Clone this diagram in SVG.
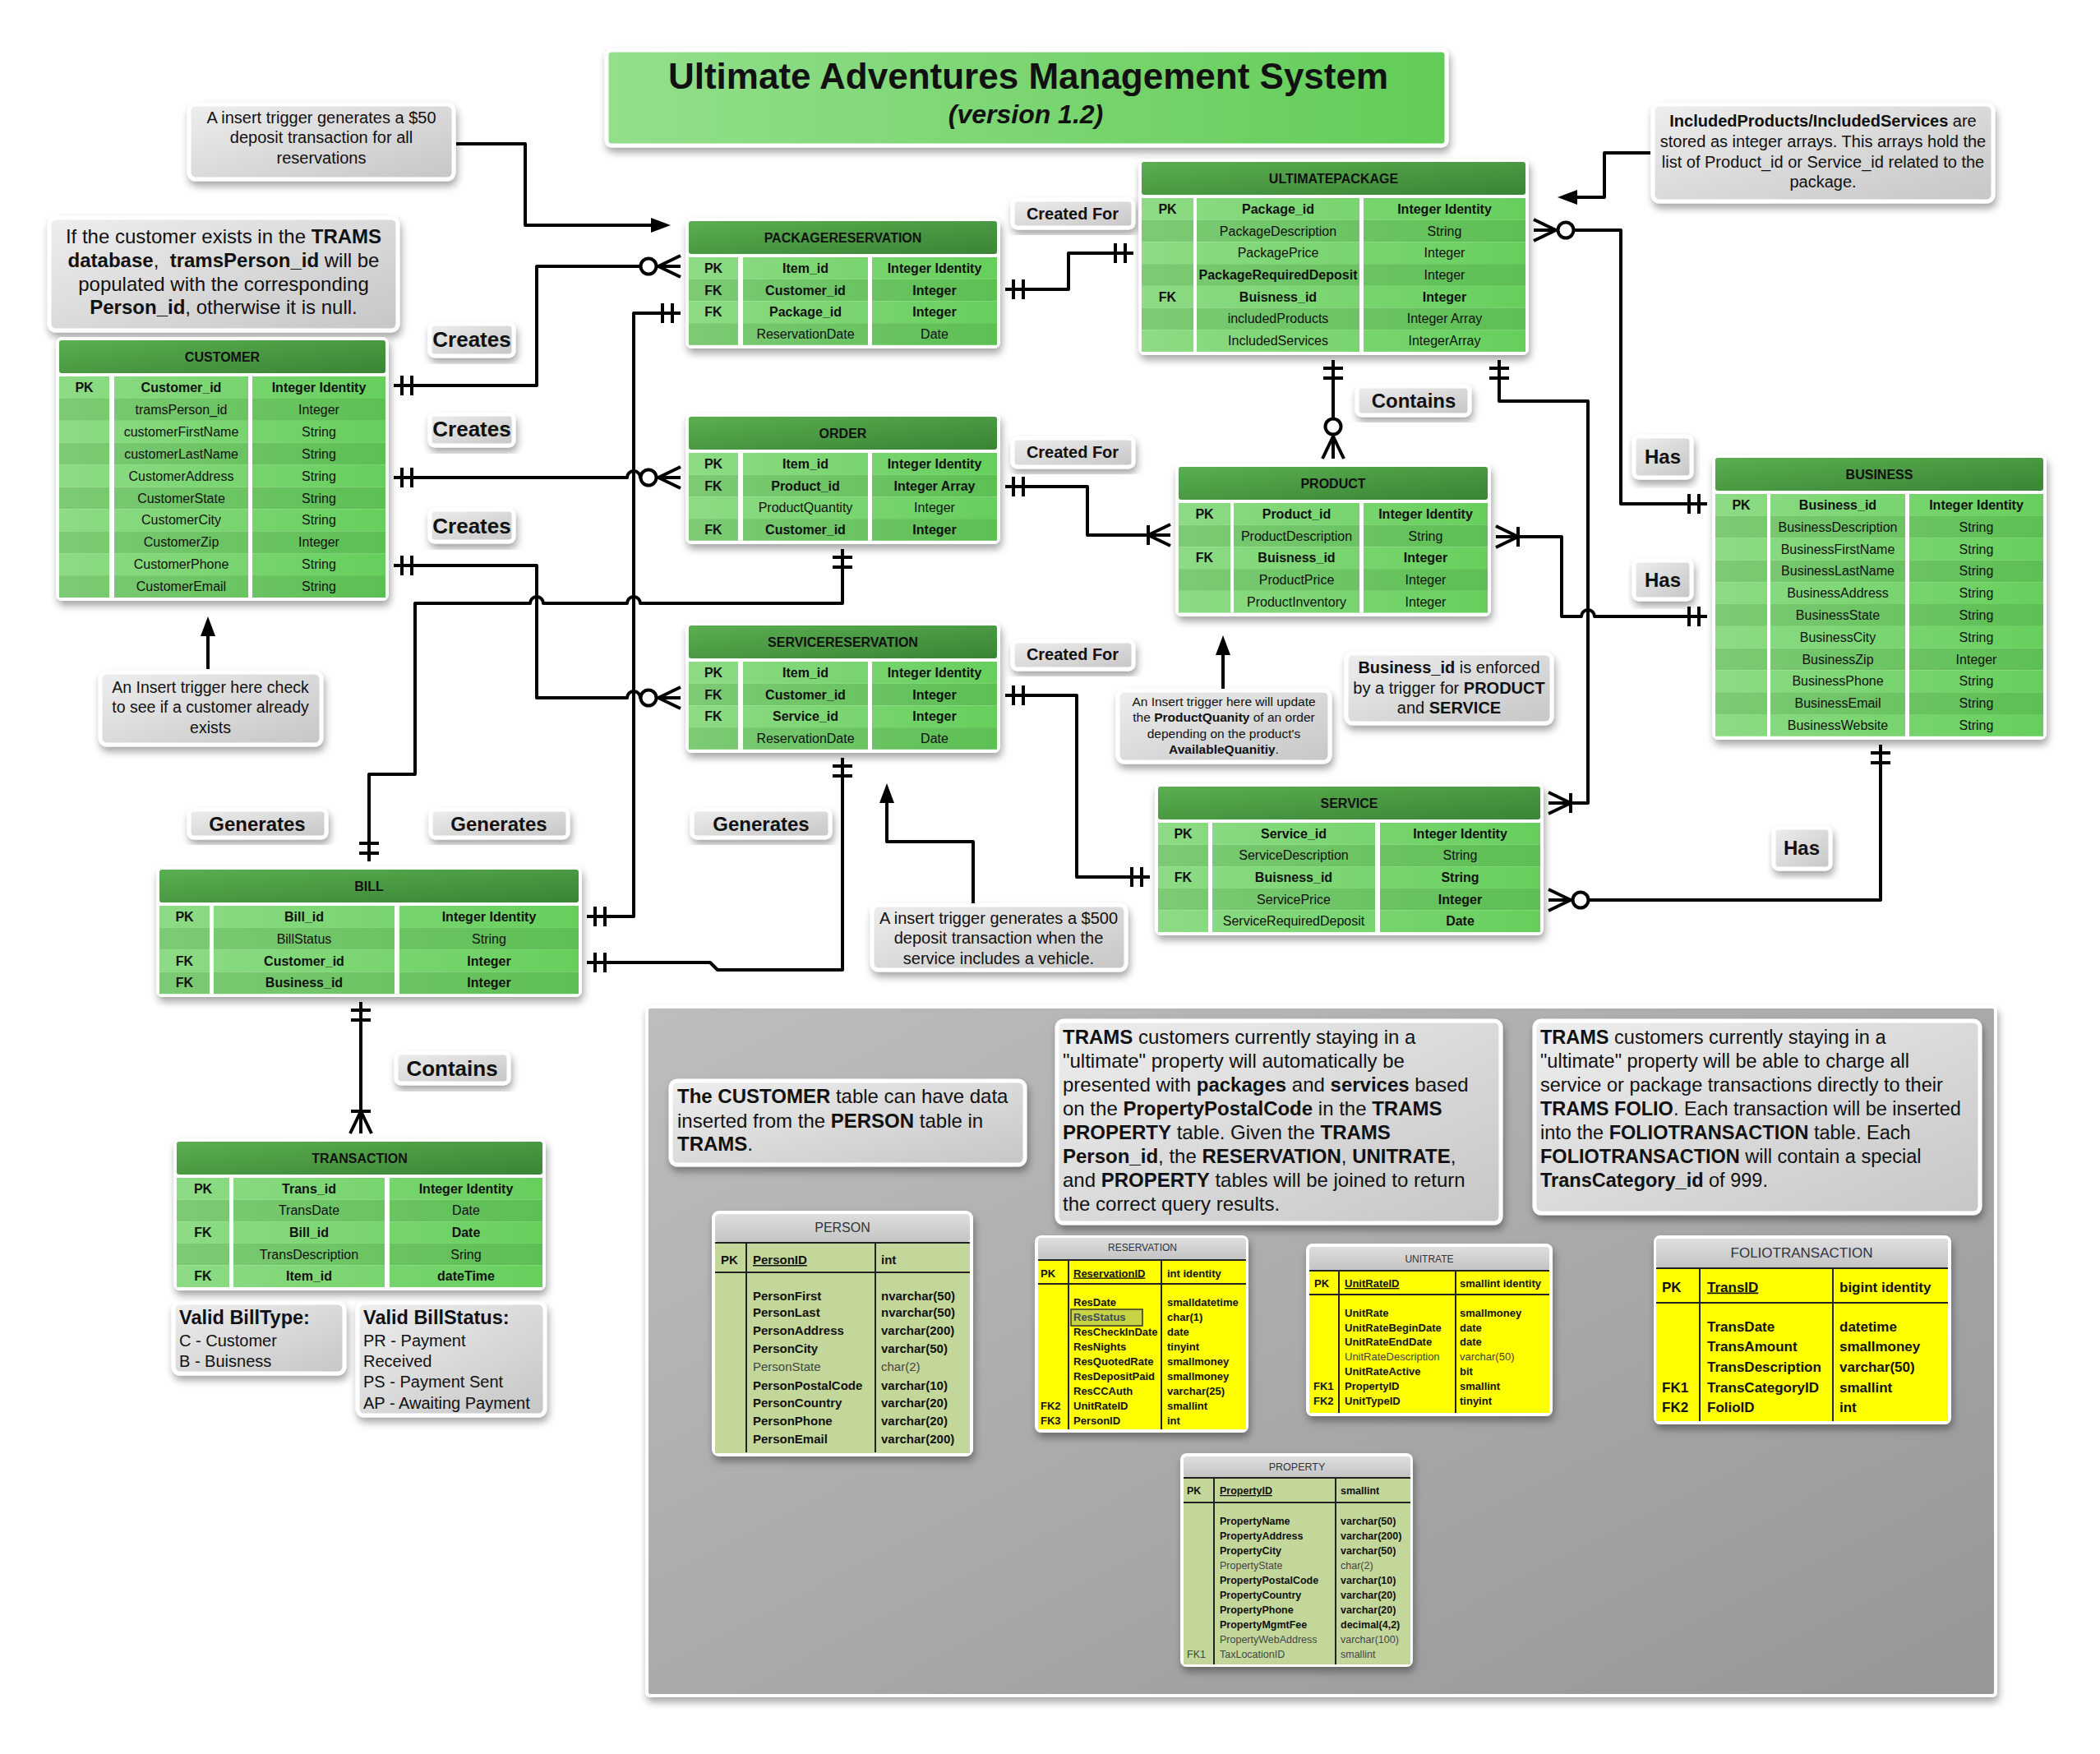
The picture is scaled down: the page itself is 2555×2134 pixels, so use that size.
<svg xmlns="http://www.w3.org/2000/svg" width="2555" height="2134" viewBox="0 0 2555 2134">
<defs>
<filter id="sh" x="-10%" y="-10%" width="125%" height="135%"><feDropShadow dx="2" dy="6" stdDeviation="5" flood-color="#000" flood-opacity="0.35"/></filter>
<linearGradient id="gH" x1="0" y1="0" x2="1" y2="1"><stop offset="0" stop-color="#5aae50"/><stop offset="1" stop-color="#3b8436"/></linearGradient>
<linearGradient id="gL" x1="0" y1="0" x2="1" y2="0"><stop offset="0" stop-color="#8edb86"/><stop offset="1" stop-color="#66cf5c"/></linearGradient>
<linearGradient id="gD" x1="0" y1="0" x2="1" y2="0"><stop offset="0" stop-color="#7dca75"/><stop offset="1" stop-color="#5cbf53"/></linearGradient>
<linearGradient id="gN" x1="0" y1="0" x2="1" y2="1"><stop offset="0" stop-color="#eeeeee"/><stop offset="1" stop-color="#c6c6c6"/></linearGradient>
<linearGradient id="gT" x1="0" y1="0" x2="1" y2="0"><stop offset="0" stop-color="#93df8c"/><stop offset="1" stop-color="#62cc57"/></linearGradient>
<linearGradient id="gP" x1="0" y1="0" x2="1" y2="1"><stop offset="0" stop-color="#bdbdbd"/><stop offset="1" stop-color="#969696"/></linearGradient>
<linearGradient id="gG" x1="0" y1="0" x2="0" y2="1"><stop offset="0" stop-color="#dedede"/><stop offset="1" stop-color="#c3c3c3"/></linearGradient>
<marker id="ah" markerUnits="userSpaceOnUse" markerWidth="26" markerHeight="20" refX="16" refY="10" orient="auto"><path d="M0,1 L24,10 L0,19 z" fill="#000"/></marker>
<g id="one" stroke="#000" stroke-width="4" fill="none"><path d="M-16,-12V12M-28,-12V12"/></g>
<g id="zm" stroke="#000" stroke-width="4"><path fill="none" d="M-33,0L-6,-13M-33,0L-6,13M-33,0H-6"/><circle cx="-45" cy="0" r="9.5" fill="#fff"/></g>
<g id="om" stroke="#000" stroke-width="4" fill="none"><path d="M-33,-12V12M-33,0L-6,-13M-33,0L-6,13M-33,0H-6"/></g>
</defs>
<style>
text{font-family:"Liberation Sans",Arial,sans-serif}
.tx{font-size:16px;fill:#111;text-anchor:middle}
.b{font-weight:bold}
.card{fill:#fff;filter:url(#sh)}
.hdr{fill:url(#gH)}
.rl{fill:url(#gL)}
.rd{fill:url(#gD)}
.sep{fill:#fff}
.note{fill:url(#gN);stroke:#fff;stroke-width:5;filter:url(#sh)}
.nt{fill:#111;text-anchor:middle}
.ntl{fill:#111;text-anchor:start}
.lb{font-weight:bold;fill:#111;text-anchor:middle}
.ln{fill:none;stroke:#000;stroke-width:4;stroke-linejoin:round}
.ar{fill:none;stroke:#000;stroke-width:4;stroke-linejoin:round;marker-end:url(#ah)}
.lt{fill:#fff;filter:url(#sh)}
.gh{fill:url(#gG)}
.tl{stroke:#222;stroke-width:2;fill:none}
.st{font-weight:bold;fill:#111}
.sr{fill:#444}
.ttl{fill:#2e3440;text-anchor:middle}
</style>

<rect width="2555" height="2134" fill="#fff"/>

<!-- gray panel -->
<g id="trams-panel">
<rect x="787" y="1225" width="1641" height="838" rx="4" fill="url(#gP)" stroke="#fff" stroke-width="4" filter="url(#sh)"/>
</g>

<!-- title -->
<g id="title">
<rect x="738" y="61" width="1022" height="116" rx="6" fill="url(#gT)" stroke="#fff" stroke-width="5" filter="url(#sh)"/>
<text x="1251" y="108" font-size="44" class="lb">Ultimate Adventures Management System</text>
<text x="1248" y="150" font-size="32" class="lb" font-style="italic">(version 1.2)</text>
</g>

<!-- notes -->
<g id="note-deposit50">
<rect class="note" x="230" y="127" width="322" height="91" rx="8"/>
<text class="nt" font-size="20"><tspan x="391" y="150">A insert trigger generates a $50</tspan><tspan x="391" y="174">deposit transaction for all</tspan><tspan x="391" y="199">reservations</tspan></text>
</g>
<g id="note-tramsperson">
<rect class="note" x="60" y="265" width="424" height="137" rx="8"/>
<text class="nt" font-size="24"><tspan x="272" y="296">If the customer exists in the <tspan font-weight="bold">TRAMS</tspan></tspan><tspan x="272" y="325"><tspan font-weight="bold">database</tspan>,&#160; <tspan font-weight="bold">tramsPerson_id</tspan> will be</tspan><tspan x="272" y="354">populated with the corresponding</tspan><tspan x="272" y="382"><tspan font-weight="bold">Person_id</tspan>, otherwise it is null.</tspan></text>
</g>
<g id="note-customer-check">
<rect class="note" x="122" y="818" width="269" height="88" rx="8"/>
<text class="nt" font-size="19.5"><tspan x="256" y="843">An Insert trigger here check</tspan><tspan x="256" y="867">to see if a customer already</tspan><tspan x="256" y="892">exists</tspan></text>
</g>
<g id="note-included">
<rect class="note" x="2011" y="127" width="414" height="118" rx="8"/>
<text class="nt" font-size="20"><tspan x="2218" y="154"><tspan font-weight="bold">IncludedProducts/IncludedServices</tspan> are</tspan><tspan x="2218" y="179">stored as integer arrays. This arrays hold the</tspan><tspan x="2218" y="204">list of Product_id or Service_id related to the</tspan><tspan x="2218" y="228">package.</tspan></text>
</g>
<g id="note-productqty">
<rect class="note" x="1360" y="840" width="258" height="87" rx="8"/>
<text class="nt" font-size="15.5"><tspan x="1489" y="859">An Insert trigger here will update</tspan><tspan x="1489" y="878">the <tspan font-weight="bold">ProductQuanity</tspan> of an order</tspan><tspan x="1489" y="898">depending on the product's</tspan><tspan x="1489" y="917"><tspan font-weight="bold">AvailableQuanitiy</tspan>.</tspan></text>
</g>
<g id="note-business-id">
<rect class="note" x="1638" y="795" width="250" height="85" rx="8"/>
<text class="nt" font-size="20"><tspan x="1763" y="819"><tspan font-weight="bold">Business_id</tspan> is enforced</tspan><tspan x="1763" y="844">by a trigger for <tspan font-weight="bold">PRODUCT</tspan></tspan><tspan x="1763" y="868">and <tspan font-weight="bold">SERVICE</tspan></tspan></text>
</g>
<g id="note-deposit500">
<rect class="note" x="1061" y="1101" width="309" height="79" rx="8"/>
<text class="nt" font-size="20"><tspan x="1215" y="1124">A insert trigger generates a $500</tspan><tspan x="1215" y="1148">deposit transaction when the</tspan><tspan x="1215" y="1173">service includes a vehicle.</tspan></text>
</g>
<g id="note-billtype">
<rect class="note" x="211" y="1585" width="208" height="86" rx="8"/>
<text class="ntl"><tspan x="218" y="1611" font-size="23.5" font-weight="bold">Valid BillType:</tspan><tspan x="218" y="1638" font-size="20">C - Customer</tspan><tspan x="218" y="1663" font-size="20">B - Buisness</tspan></text>
</g>
<g id="note-billstatus">
<rect class="note" x="435" y="1585" width="228" height="137" rx="8"/>
<text class="ntl"><tspan x="442" y="1611" font-size="23.5" font-weight="bold">Valid BillStatus:</tspan><tspan x="442" y="1638" font-size="20">PR - Payment</tspan><tspan x="442" y="1663" font-size="20">Received</tspan><tspan x="442" y="1688" font-size="20">PS - Payment Sent</tspan><tspan x="442" y="1714" font-size="20">AP - Awaiting Payment</tspan></text>
</g>
<g id="note-customer-person">
<rect class="note" x="816" y="1315" width="431" height="102" rx="8"/>
<text class="ntl" font-size="24"><tspan x="824" y="1342"><tspan font-weight="bold">The CUSTOMER</tspan> table can have data</tspan><tspan x="824" y="1372">inserted from the <tspan font-weight="bold">PERSON</tspan> table in</tspan><tspan x="824" y="1400"><tspan font-weight="bold">TRAMS</tspan>.</tspan></text>
</g>
<g id="note-ultimate-packages">
<rect class="note" x="1286" y="1242" width="540" height="246" rx="8"/>
<text class="ntl" font-size="24"><tspan x="1293" y="1270"><tspan font-weight="bold">TRAMS</tspan> customers currently staying in a</tspan><tspan x="1293" y="1299">"ultimate" property will automatically be</tspan><tspan x="1293" y="1328">presented with <tspan font-weight="bold">packages</tspan> and <tspan font-weight="bold">services</tspan> based</tspan><tspan x="1293" y="1357">on the <tspan font-weight="bold">PropertyPostalCode</tspan> in the <tspan font-weight="bold">TRAMS</tspan></tspan><tspan x="1293" y="1386"><tspan font-weight="bold">PROPERTY</tspan> table. Given the <tspan font-weight="bold">TRAMS</tspan></tspan><tspan x="1293" y="1415"><tspan font-weight="bold">Person_id</tspan>, the <tspan font-weight="bold">RESERVATION</tspan>, <tspan font-weight="bold">UNITRATE</tspan>,</tspan><tspan x="1293" y="1444">and <tspan font-weight="bold">PROPERTY</tspan> tables will be joined to return</tspan><tspan x="1293" y="1473">the correct query results.</tspan></text>
</g>
<g id="note-folio">
<rect class="note" x="1867" y="1242" width="542" height="234" rx="8"/>
<text class="ntl" font-size="23.5"><tspan x="1874" y="1270"><tspan font-weight="bold">TRAMS</tspan> customers currently staying in a</tspan><tspan x="1874" y="1299">"ultimate" property will be able to charge all</tspan><tspan x="1874" y="1328">service or package transactions directly to their</tspan><tspan x="1874" y="1357"><tspan font-weight="bold">TRAMS FOLIO</tspan>. Each transaction will be inserted</tspan><tspan x="1874" y="1386">into the <tspan font-weight="bold">FOLIOTRANSACTION</tspan> table. Each</tspan><tspan x="1874" y="1415"><tspan font-weight="bold">FOLIOTRANSACTION</tspan> will contain a special</tspan><tspan x="1874" y="1444"><tspan font-weight="bold">TransCategory_id</tspan> of 999.</tspan></text>
</g>

<!-- relationship labels -->
<g id="labels">
<rect class="note" x="523" y="394" width="102" height="39" rx="6"/><text class="lb" font-size="26" x="574" y="422">Creates</text>
<rect class="note" x="523" y="504" width="102" height="38" rx="6"/><text class="lb" font-size="26" x="574" y="531">Creates</text>
<rect class="note" x="523" y="620" width="102" height="39" rx="6"/><text class="lb" font-size="26" x="574" y="649">Creates</text>
<rect class="note" x="1232" y="243" width="147" height="34" rx="6"/><text class="lb" font-size="20" x="1305" y="267">Created For</text>
<rect class="note" x="1232" y="533" width="147" height="35" rx="6"/><text class="lb" font-size="20" x="1305" y="557">Created For</text>
<rect class="note" x="1232" y="780" width="147" height="34" rx="6"/><text class="lb" font-size="20" x="1305" y="803">Created For</text>
<rect class="note" x="1651" y="470" width="137" height="35" rx="6"/><text class="lb" font-size="24" x="1720" y="496">Contains</text>
<rect class="note" x="1988" y="531" width="70" height="50" rx="6"/><text class="lb" font-size="24" x="2023" y="564">Has</text>
<rect class="note" x="1988" y="682" width="70" height="47" rx="6"/><text class="lb" font-size="24" x="2023" y="714">Has</text>
<rect class="note" x="2158" y="1007" width="69" height="50" rx="6"/><text class="lb" font-size="24" x="2192" y="1040">Has</text>
<rect class="note" x="230" y="985" width="167" height="34" rx="6"/><text class="lb" font-size="24" x="313" y="1011">Generates</text>
<rect class="note" x="524" y="985" width="167" height="34" rx="6"/><text class="lb" font-size="24" x="607" y="1011">Generates</text>
<rect class="note" x="842" y="985" width="168" height="34" rx="6"/><text class="lb" font-size="24" x="926" y="1011">Generates</text>
<rect class="note" x="482" y="1281" width="137" height="37" rx="6"/><text class="lb" font-size="26" x="550" y="1309">Contains</text>
</g>

<!-- CUSTOMER -->
<g id="customer">
<rect class="card" x="68" y="410" width="405" height="321" rx="8"/>
<rect class="hdr" x="72" y="414" width="397" height="40" rx="3"/>
<rect class="rl" x="72" y="458" width="397" height="27"/><rect class="rd" x="72" y="484.9" width="397" height="27"/><rect class="rl" x="72" y="511.8" width="397" height="27"/><rect class="rd" x="72" y="538.7" width="397" height="27"/><rect class="rl" x="72" y="565.6" width="397" height="27"/><rect class="rd" x="72" y="592.5" width="397" height="27"/><rect class="rl" x="72" y="619.4" width="397" height="27"/><rect class="rd" x="72" y="646.3" width="397" height="27"/><rect class="rl" x="72" y="673.2" width="397" height="27"/><rect class="rd" x="72" y="700.1" width="397" height="26.9"/>
<rect class="sep" x="133" y="458" width="6" height="269"/><rect class="sep" x="302" y="458" width="5" height="269"/>
<text class="tx b" x="270.5" y="439.5">CUSTOMER</text>
<text class="tx b" x="102.5" y="477">PK</text><text class="tx b" x="220.5" y="477">Customer_id</text><text class="tx b" x="388" y="477">Integer Identity</text>
<text class="tx" x="220.5" y="503.9">tramsPerson_id</text><text class="tx" x="388" y="503.9">Integer</text>
<text class="tx" x="220.5" y="530.8">customerFirstName</text><text class="tx" x="388" y="530.8">String</text>
<text class="tx" x="220.5" y="557.7">customerLastName</text><text class="tx" x="388" y="557.7">String</text>
<text class="tx" x="220.5" y="584.6">CustomerAddress</text><text class="tx" x="388" y="584.6">String</text>
<text class="tx" x="220.5" y="611.5">CustomerState</text><text class="tx" x="388" y="611.5">String</text>
<text class="tx" x="220.5" y="638.4">CustomerCity</text><text class="tx" x="388" y="638.4">String</text>
<text class="tx" x="220.5" y="665.3">CustomerZip</text><text class="tx" x="388" y="665.3">Integer</text>
<text class="tx" x="220.5" y="692.2">CustomerPhone</text><text class="tx" x="388" y="692.2">String</text>
<text class="tx" x="220.5" y="719.1">CustomerEmail</text><text class="tx" x="388" y="719.1">String</text>
</g>

<!-- PACKAGERESERVATION -->
<g id="packagereservation">
<rect class="card" x="834" y="265" width="383" height="159" rx="8"/>
<rect class="hdr" x="838" y="269" width="375" height="40" rx="3"/>
<rect class="rl" x="838" y="313" width="375" height="26.8"/><rect class="rd" x="838" y="339.7" width="375" height="26.8"/><rect class="rl" x="838" y="366.4" width="375" height="26.8"/><rect class="rd" x="838" y="393.1" width="375" height="26.7"/>
<rect class="sep" x="898" y="313" width="6" height="106.8"/><rect class="sep" x="1056" y="313" width="5" height="106.8"/>
<text class="tx b" x="1025.5" y="294.5">PACKAGERESERVATION</text>
<text class="tx b" x="868" y="331.9">PK</text><text class="tx b" x="980" y="331.9">Item_id</text><text class="tx b" x="1137" y="331.9">Integer Identity</text>
<text class="tx b" x="868" y="358.6">FK</text><text class="tx b" x="980" y="358.6">Customer_id</text><text class="tx b" x="1137" y="358.6">Integer</text>
<text class="tx b" x="868" y="385.3">FK</text><text class="tx b" x="980" y="385.3">Package_id</text><text class="tx b" x="1137" y="385.3">Integer</text>
<text class="tx" x="980" y="412">ReservationDate</text><text class="tx" x="1137" y="412">Date</text>
</g>

<!-- ORDER -->
<g id="order">
<rect class="card" x="834" y="503" width="383" height="159" rx="8"/>
<rect class="hdr" x="838" y="507" width="375" height="40" rx="3"/>
<rect class="rl" x="838" y="551" width="375" height="26.8"/><rect class="rd" x="838" y="577.7" width="375" height="26.8"/><rect class="rl" x="838" y="604.4" width="375" height="26.8"/><rect class="rd" x="838" y="631.1" width="375" height="26.7"/>
<rect class="sep" x="898" y="551" width="6" height="106.8"/><rect class="sep" x="1056" y="551" width="5" height="106.8"/>
<text class="tx b" x="1025.5" y="532.5">ORDER</text>
<text class="tx b" x="868" y="569.9">PK</text><text class="tx b" x="980" y="569.9">Item_id</text><text class="tx b" x="1137" y="569.9">Integer Identity</text>
<text class="tx b" x="868" y="596.6">FK</text><text class="tx b" x="980" y="596.6">Product_id</text><text class="tx b" x="1137" y="596.6">Integer Array</text>
<text class="tx" x="980" y="623.3">ProductQuantity</text><text class="tx" x="1137" y="623.3">Integer</text>
<text class="tx b" x="868" y="650">FK</text><text class="tx b" x="980" y="650">Customer_id</text><text class="tx b" x="1137" y="650">Integer</text>
</g>

<!-- SERVICERESERVATION -->
<g id="servicereservation">
<rect class="card" x="834" y="757" width="383" height="159" rx="8"/>
<rect class="hdr" x="838" y="761" width="375" height="40" rx="3"/>
<rect class="rl" x="838" y="805" width="375" height="26.8"/><rect class="rd" x="838" y="831.7" width="375" height="26.8"/><rect class="rl" x="838" y="858.4" width="375" height="26.8"/><rect class="rd" x="838" y="885.1" width="375" height="26.7"/>
<rect class="sep" x="898" y="805" width="6" height="106.8"/><rect class="sep" x="1056" y="805" width="5" height="106.8"/>
<text class="tx b" x="1025.5" y="786.5">SERVICERESERVATION</text>
<text class="tx b" x="868" y="823.9">PK</text><text class="tx b" x="980" y="823.9">Item_id</text><text class="tx b" x="1137" y="823.9">Integer Identity</text>
<text class="tx b" x="868" y="850.6">FK</text><text class="tx b" x="980" y="850.6">Customer_id</text><text class="tx b" x="1137" y="850.6">Integer</text>
<text class="tx b" x="868" y="877.3">FK</text><text class="tx b" x="980" y="877.3">Service_id</text><text class="tx b" x="1137" y="877.3">Integer</text>
<text class="tx" x="980" y="904">ReservationDate</text><text class="tx" x="1137" y="904">Date</text>
</g>

<!-- ULTIMATEPACKAGE -->
<g id="ultimatepackage">
<rect class="card" x="1385" y="193" width="475" height="239" rx="8"/>
<rect class="hdr" x="1389" y="197" width="467" height="40" rx="3"/>
<rect class="rl" x="1389" y="241" width="467" height="26.8"/><rect class="rd" x="1389" y="267.7" width="467" height="26.8"/><rect class="rl" x="1389" y="294.4" width="467" height="26.8"/><rect class="rd" x="1389" y="321.1" width="467" height="26.8"/><rect class="rl" x="1389" y="347.8" width="467" height="26.8"/><rect class="rd" x="1389" y="374.5" width="467" height="26.8"/><rect class="rl" x="1389" y="401.2" width="467" height="26.7"/>
<rect class="sep" x="1452" y="241" width="4" height="187"/><rect class="sep" x="1654" y="241" width="5" height="187"/>
<text class="tx b" x="1622.5" y="222.5">ULTIMATEPACKAGE</text>
<text class="tx b" x="1420.5" y="259.9">PK</text><text class="tx b" x="1555" y="259.9">Package_id</text><text class="tx b" x="1757.5" y="259.9">Integer Identity</text>
<text class="tx" x="1555" y="286.6">PackageDescription</text><text class="tx" x="1757.5" y="286.6">String</text>
<text class="tx" x="1555" y="313.3">PackagePrice</text><text class="tx" x="1757.5" y="313.3">Integer</text>
<text class="tx b" x="1555" y="340" font-size="15.5">PackageRequiredDeposit</text><text class="tx" x="1757.5" y="340">Integer</text>
<text class="tx b" x="1420.5" y="366.7">FK</text><text class="tx b" x="1555" y="366.7">Buisness_id</text><text class="tx b" x="1757.5" y="366.7">Integer</text>
<text class="tx" x="1555" y="393.4">includedProducts</text><text class="tx" x="1757.5" y="393.4">Integer Array</text>
<text class="tx" x="1555" y="420.1">IncludedServices</text><text class="tx" x="1757.5" y="420.1">IntegerArray</text>
</g>

<!-- PRODUCT -->
<g id="product">
<rect class="card" x="1430" y="564" width="384" height="186" rx="8"/>
<rect class="hdr" x="1434" y="568" width="376" height="40" rx="3"/>
<rect class="rl" x="1434" y="612" width="376" height="26.8"/><rect class="rd" x="1434" y="638.7" width="376" height="26.8"/><rect class="rl" x="1434" y="665.4" width="376" height="26.8"/><rect class="rd" x="1434" y="692.1" width="376" height="26.8"/><rect class="rl" x="1434" y="718.8" width="376" height="26.7"/>
<rect class="sep" x="1497" y="612" width="4" height="133.5"/><rect class="sep" x="1654" y="612" width="5" height="133.5"/>
<text class="tx b" x="1622" y="593.5">PRODUCT</text>
<text class="tx b" x="1465.5" y="630.9">PK</text><text class="tx b" x="1577.5" y="630.9">Product_id</text><text class="tx b" x="1734.5" y="630.9">Integer Identity</text>
<text class="tx" x="1577.5" y="657.6">ProductDescription</text><text class="tx" x="1734.5" y="657.6">String</text>
<text class="tx b" x="1465.5" y="684.3">FK</text><text class="tx b" x="1577.5" y="684.3">Buisness_id</text><text class="tx b" x="1734.5" y="684.3">Integer</text>
<text class="tx" x="1577.5" y="711">ProductPrice</text><text class="tx" x="1734.5" y="711">Integer</text>
<text class="tx" x="1577.5" y="737.7">ProductInventory</text><text class="tx" x="1734.5" y="737.7">Integer</text>
</g>

<!-- BUSINESS -->
<g id="business">
<rect class="card" x="2083" y="553" width="407" height="347" rx="8"/>
<rect class="hdr" x="2087" y="557" width="399" height="40" rx="3"/>
<rect class="rl" x="2087" y="601" width="399" height="26.9"/><rect class="rd" x="2087" y="627.8" width="399" height="26.9"/><rect class="rl" x="2087" y="654.6" width="399" height="26.9"/><rect class="rd" x="2087" y="681.4" width="399" height="26.9"/><rect class="rl" x="2087" y="708.2" width="399" height="26.9"/><rect class="rd" x="2087" y="735" width="399" height="26.9"/><rect class="rl" x="2087" y="761.8" width="399" height="26.9"/><rect class="rd" x="2087" y="788.6" width="399" height="26.9"/><rect class="rl" x="2087" y="815.4" width="399" height="26.9"/><rect class="rd" x="2087" y="842.2" width="399" height="26.9"/><rect class="rl" x="2087" y="869" width="399" height="26.8"/>
<rect class="sep" x="2150" y="601" width="4" height="294.8"/><rect class="sep" x="2318" y="601" width="5" height="294.8"/>
<text class="tx b" x="2286.5" y="582.5">BUSINESS</text>
<text class="tx b" x="2118.5" y="619.9">PK</text><text class="tx b" x="2236" y="619.9">Business_id</text><text class="tx b" x="2404.5" y="619.9">Integer Identity</text>
<text class="tx" x="2236" y="646.7">BusinessDescription</text><text class="tx" x="2404.5" y="646.7">String</text>
<text class="tx" x="2236" y="673.5">BusinessFirstName</text><text class="tx" x="2404.5" y="673.5">String</text>
<text class="tx" x="2236" y="700.3">BusinessLastName</text><text class="tx" x="2404.5" y="700.3">String</text>
<text class="tx" x="2236" y="727.1">BusinessAddress</text><text class="tx" x="2404.5" y="727.1">String</text>
<text class="tx" x="2236" y="753.9">BusinessState</text><text class="tx" x="2404.5" y="753.9">String</text>
<text class="tx" x="2236" y="780.7">BusinessCity</text><text class="tx" x="2404.5" y="780.7">String</text>
<text class="tx" x="2236" y="807.5">BusinessZip</text><text class="tx" x="2404.5" y="807.5">Integer</text>
<text class="tx" x="2236" y="834.3">BusinessPhone</text><text class="tx" x="2404.5" y="834.3">String</text>
<text class="tx" x="2236" y="861.1">BusinessEmail</text><text class="tx" x="2404.5" y="861.1">String</text>
<text class="tx" x="2236" y="887.9">BusinessWebsite</text><text class="tx" x="2404.5" y="887.9">String</text>
</g>

<!-- SERVICE -->
<g id="service">
<rect class="card" x="1405" y="953" width="473" height="185" rx="8"/>
<rect class="hdr" x="1409" y="957" width="465" height="40" rx="3"/>
<rect class="rl" x="1409" y="1001" width="465" height="26.7"/><rect class="rd" x="1409" y="1027.6" width="465" height="26.7"/><rect class="rl" x="1409" y="1054.2" width="465" height="26.7"/><rect class="rd" x="1409" y="1080.8" width="465" height="26.7"/><rect class="rl" x="1409" y="1107.4" width="465" height="26.6"/>
<rect class="sep" x="1470" y="1001" width="5" height="133"/><rect class="sep" x="1673" y="1001" width="6" height="133"/>
<text class="tx b" x="1641.5" y="982.5">SERVICE</text>
<text class="tx b" x="1439.5" y="1019.8">PK</text><text class="tx b" x="1574" y="1019.8">Service_id</text><text class="tx b" x="1776.5" y="1019.8">Integer Identity</text>
<text class="tx" x="1574" y="1046.4">ServiceDescription</text><text class="tx" x="1776.5" y="1046.4">String</text>
<text class="tx b" x="1439.5" y="1073">FK</text><text class="tx b" x="1574" y="1073">Buisness_id</text><text class="tx b" x="1776.5" y="1073">String</text>
<text class="tx" x="1574" y="1099.6">ServicePrice</text><text class="tx b" x="1776.5" y="1099.6">Integer</text>
<text class="tx" x="1574" y="1126.2">ServiceRequiredDeposit</text><text class="tx b" x="1776.5" y="1126.2">Date</text>
</g>

<!-- BILL -->
<g id="bill">
<rect class="card" x="190" y="1054" width="518" height="159" rx="8"/>
<rect class="hdr" x="194" y="1058" width="510" height="40" rx="3"/>
<rect class="rl" x="194" y="1102" width="510" height="26.9"/><rect class="rd" x="194" y="1128.8" width="510" height="26.9"/><rect class="rl" x="194" y="1155.6" width="510" height="26.9"/><rect class="rd" x="194" y="1182.4" width="510" height="26.8"/>
<rect class="sep" x="255" y="1102" width="5" height="107.2"/><rect class="sep" x="480" y="1102" width="6" height="107.2"/>
<text class="tx b" x="449" y="1083.5">BILL</text>
<text class="tx b" x="224.5" y="1120.9">PK</text><text class="tx b" x="370" y="1120.9">Bill_id</text><text class="tx b" x="595" y="1120.9">Integer Identity</text>
<text class="tx" x="370" y="1147.7">BillStatus</text><text class="tx" x="595" y="1147.7">String</text>
<text class="tx b" x="224.5" y="1174.5">FK</text><text class="tx b" x="370" y="1174.5">Customer_id</text><text class="tx b" x="595" y="1174.5">Integer</text>
<text class="tx b" x="224.5" y="1201.3">FK</text><text class="tx b" x="370" y="1201.3">Business_id</text><text class="tx b" x="595" y="1201.3">Integer</text>
</g>

<!-- TRANSACTION -->
<g id="transaction">
<rect class="card" x="211" y="1385" width="453" height="185" rx="8"/>
<rect class="hdr" x="215" y="1389" width="445" height="40" rx="3"/>
<rect class="rl" x="215" y="1433" width="445" height="26.7"/><rect class="rd" x="215" y="1459.6" width="445" height="26.7"/><rect class="rl" x="215" y="1486.2" width="445" height="26.7"/><rect class="rd" x="215" y="1512.8" width="445" height="26.7"/><rect class="rl" x="215" y="1539.4" width="445" height="26.6"/>
<rect class="sep" x="279" y="1433" width="5" height="133"/><rect class="sep" x="468" y="1433" width="6" height="133"/>
<text class="tx b" x="437.5" y="1414.5">TRANSACTION</text>
<text class="tx b" x="247" y="1451.8">PK</text><text class="tx b" x="376" y="1451.8">Trans_id</text><text class="tx b" x="567" y="1451.8">Integer Identity</text>
<text class="tx" x="376" y="1478.4">TransDate</text><text class="tx" x="567" y="1478.4">Date</text>
<text class="tx b" x="247" y="1505">FK</text><text class="tx b" x="376" y="1505">Bill_id</text><text class="tx b" x="567" y="1505">Date</text>
<text class="tx" x="376" y="1531.6">TransDescription</text><text class="tx" x="567" y="1531.6">Sring</text>
<text class="tx b" x="247" y="1558.2">FK</text><text class="tx b" x="376" y="1558.2">Item_id</text><text class="tx b" x="567" y="1558.2">dateTime</text>
</g>

<!-- PERSON -->
<g id="person">
<rect class="lt" x="866" y="1473" width="318" height="299" rx="9"/>
<rect class="gh" x="870" y="1477" width="310" height="35" rx="5"/>
<rect x="870" y="1512" width="310" height="256" fill="#c4d79b"/>
<path class="tl" d="M870,1512H1180M870,1548H1180M908,1512V1767M1065,1512V1767"/>
<text class="ttl" font-size="16" x="1025" y="1499">PERSON</text>
<g class="st" font-size="15">
<text x="877" y="1538">PK</text><text x="916" y="1538" text-decoration="underline">PersonID</text><text x="1072" y="1538">int</text>
<text x="916" y="1581.5">PersonFirst</text><text x="1072" y="1581.5">nvarchar(50)</text>
<text x="916" y="1601.5">PersonLast</text><text x="1072" y="1601.5">nvarchar(50)</text>
<text x="916" y="1624">PersonAddress</text><text x="1072" y="1624">varchar(200)</text>
<text x="916" y="1646">PersonCity</text><text x="1072" y="1646">varchar(50)</text>
<text x="916" y="1668" font-weight="normal" class="sr">PersonState</text><text x="1072" y="1668" font-weight="normal" class="sr">char(2)</text>
<text x="916" y="1690.5">PersonPostalCode</text><text x="1072" y="1690.5">varchar(10)</text>
<text x="916" y="1712">PersonCountry</text><text x="1072" y="1712">varchar(20)</text>
<text x="916" y="1734">PersonPhone</text><text x="1072" y="1734">varchar(20)</text>
<text x="916" y="1755.5">PersonEmail</text><text x="1072" y="1755.5">varchar(200)</text>
</g>
</g>

<!-- RESERVATION -->
<g id="reservation">
<rect class="lt" x="1259" y="1503" width="260" height="240" rx="8"/>
<rect class="gh" x="1263" y="1506" width="253" height="27" rx="4"/>
<rect x="1263" y="1533" width="253" height="206" fill="#ffff00"/>
<rect x="1303" y="1593" width="87" height="20" fill="#c8d444" stroke="#333" stroke-width="1.5"/>
<path class="tl" d="M1263,1533H1516M1263,1562H1516M1300,1533V1739M1413,1533V1739"/>
<text class="ttl" font-size="12" x="1390" y="1522">RESERVATION</text>
<g class="st" font-size="13">
<text x="1266" y="1553.5">PK</text><text x="1306" y="1553.5" text-decoration="underline">ReservationID</text><text x="1420" y="1553.5">int identity</text>
<text x="1306" y="1588.5">ResDate</text><text x="1420" y="1588.5">smalldatetime</text>
<text x="1306" y="1607" fill="#3a4a5a">ResStatus</text><text x="1420" y="1607">char(1)</text>
<text x="1306" y="1624.5">ResCheckInDate</text><text x="1420" y="1624.5">date</text>
<text x="1306" y="1643">ResNights</text><text x="1420" y="1643">tinyint</text>
<text x="1306" y="1660.5">ResQuotedRate</text><text x="1420" y="1660.5">smallmoney</text>
<text x="1306" y="1679">ResDepositPaid</text><text x="1420" y="1679">smallmoney</text>
<text x="1306" y="1697">ResCCAuth</text><text x="1420" y="1697">varchar(25)</text>
<text x="1266" y="1715">FK2</text><text x="1306" y="1715">UnitRateID</text><text x="1420" y="1715">smallint</text>
<text x="1266" y="1733">FK3</text><text x="1306" y="1733">PersonID</text><text x="1420" y="1733">int</text>
</g>
</g>

<!-- UNITRATE -->
<g id="unitrate">
<rect class="lt" x="1589" y="1513" width="300" height="210" rx="8"/>
<rect class="gh" x="1593" y="1517" width="292" height="29" rx="4"/>
<rect x="1593" y="1546" width="292" height="173" fill="#ffff00"/>
<path class="tl" d="M1593,1546H1885M1593,1575H1885M1629,1546V1719M1771,1546V1719"/>
<text class="ttl" font-size="12" x="1739" y="1535.5">UNITRATE</text>
<g class="st" font-size="13">
<text x="1599" y="1566">PK</text><text x="1636" y="1566" text-decoration="underline">UnitRateID</text><text x="1776" y="1566">smallint identity</text>
<text x="1636" y="1602">UnitRate</text><text x="1776" y="1602">smallmoney</text>
<text x="1636" y="1619.5">UnitRateBeginDate</text><text x="1776" y="1619.5">date</text>
<text x="1636" y="1637">UnitRateEndDate</text><text x="1776" y="1637">date</text>
<text x="1636" y="1655" font-weight="normal" class="sr">UnitRateDescription</text><text x="1776" y="1655" font-weight="normal" class="sr">varchar(50)</text>
<text x="1636" y="1673">UnitRateActive</text><text x="1776" y="1673">bit</text>
<text x="1598" y="1691">FK1</text><text x="1636" y="1691">PropertyID</text><text x="1776" y="1691">smallint</text>
<text x="1598" y="1708.5">FK2</text><text x="1636" y="1708.5">UnitTypeID</text><text x="1776" y="1708.5">tinyint</text>
</g>
</g>

<!-- FOLIOTRANSACTION -->
<g id="foliotransaction">
<rect class="lt" x="2012" y="1503" width="362" height="230" rx="8"/>
<rect class="gh" x="2015" y="1507" width="355" height="36" rx="4"/>
<rect x="2015" y="1543" width="355" height="186" fill="#ffff00"/>
<path class="tl" d="M2015,1543H2370M2015,1585H2370M2068,1543V1729M2230,1543V1729"/>
<text class="ttl" font-size="17" x="2192" y="1530">FOLIOTRANSACTION</text>
<g class="st" font-size="17">
<text x="2022" y="1571.5">PK</text><text x="2077" y="1571.5" text-decoration="underline">TransID</text><text x="2238" y="1571.5">bigint identity</text>
<text x="2077" y="1620">TransDate</text><text x="2238" y="1620">datetime</text>
<text x="2077" y="1644">TransAmount</text><text x="2238" y="1644">smallmoney</text>
<text x="2077" y="1669">TransDescription</text><text x="2238" y="1669">varchar(50)</text>
<text x="2022" y="1694">FK1</text><text x="2077" y="1694">TransCategoryID</text><text x="2238" y="1694">smallint</text>
<text x="2022" y="1718">FK2</text><text x="2077" y="1718">FolioID</text><text x="2238" y="1718">int</text>
</g>
</g>

<!-- PROPERTY -->
<g id="property">
<rect class="lt" x="1436" y="1768" width="283" height="260" rx="8"/>
<rect class="gh" x="1440" y="1772" width="276" height="26" rx="4"/>
<rect x="1440" y="1798" width="276" height="227" fill="#c4d79b"/>
<path class="tl" d="M1440,1798H1716M1440,1828H1716M1477,1798V2025M1625,1798V2025"/>
<text class="ttl" font-size="12.5" x="1578" y="1789">PROPERTY</text>
<g class="st" font-size="12.5">
<text x="1444" y="1818">PK</text><text x="1484" y="1818" text-decoration="underline">PropertyID</text><text x="1631" y="1818">smallint</text>
<text x="1484" y="1855">PropertyName</text><text x="1631" y="1855">varchar(50)</text>
<text x="1484" y="1873">PropertyAddress</text><text x="1631" y="1873">varchar(200)</text>
<text x="1484" y="1891">PropertyCity</text><text x="1631" y="1891">varchar(50)</text>
<text x="1484" y="1909" font-weight="normal" class="sr">PropertyState</text><text x="1631" y="1909" font-weight="normal" class="sr">char(2)</text>
<text x="1484" y="1927">PropertyPostalCode</text><text x="1631" y="1927">varchar(10)</text>
<text x="1484" y="1945">PropertyCountry</text><text x="1631" y="1945">varchar(20)</text>
<text x="1484" y="1962.5">PropertyPhone</text><text x="1631" y="1962.5">varchar(20)</text>
<text x="1484" y="1980.5">PropertyMgmtFee</text><text x="1631" y="1980.5">decimal(4,2)</text>
<text x="1484" y="1998.5" font-weight="normal" class="sr">PropertyWebAddress</text><text x="1631" y="1998.5" font-weight="normal" class="sr">varchar(100)</text>
<text x="1444" y="2016.5" font-weight="normal" class="sr">FK1</text><text x="1484" y="2016.5" font-weight="normal" class="sr">TaxLocationID</text><text x="1631" y="2016.5" font-weight="normal" class="sr">smallint</text>
</g>
</g>

<!-- connectors -->
<g id="connectors">
<path class="ln" d="M479,469 H653 V324 H828"/>
<use href="#one" transform="translate(473,469) rotate(180)"/><use href="#zm" transform="translate(834,324)"/>
<path class="ln" d="M479,581 H763 A8,8 0 0 1 779,581 H828"/>
<use href="#one" transform="translate(473,581) rotate(180)"/><use href="#zm" transform="translate(834,581)"/>
<path class="ln" d="M479,688 H653 V849 H763 A8,8 0 0 1 779,849 H828"/>
<use href="#one" transform="translate(473,688) rotate(180)"/><use href="#zm" transform="translate(834,849)"/>
<path class="ln" d="M828,381 H771 V1115 H714"/>
<use href="#one" transform="translate(834,381)"/><use href="#one" transform="translate(708,1115) rotate(180)"/>
<path class="ln" d="M1025,668 V734 H779 A8,8 0 0 0 763,734 H661 A8,8 0 0 0 645,734 H505 V942 H449 V1048"/>
<use href="#one" transform="translate(1025,662) rotate(-90)"/><use href="#one" transform="translate(449,1054) rotate(90)"/>
<path class="ln" d="M1025,922 V1180 H873 L864,1171 H714"/>
<use href="#one" transform="translate(1025,916) rotate(-90)"/><use href="#one" transform="translate(708,1171) rotate(180)"/>
<path class="ln" d="M1223,352 H1300 V308 H1379"/>
<use href="#one" transform="translate(1217,352) rotate(180)"/><use href="#one" transform="translate(1385,308)"/>
<path class="ln" d="M1223,592 H1323 V651 H1424"/>
<use href="#one" transform="translate(1217,592) rotate(180)"/><use href="#om" transform="translate(1430,651)"/>
<path class="ln" d="M1223,846 H1310 V1067 H1399"/>
<use href="#one" transform="translate(1217,846) rotate(180)"/><use href="#one" transform="translate(1405,1067)"/>
<path class="ln" d="M1622,438 V558"/>
<use href="#one" transform="translate(1622,432) rotate(-90)"/><use href="#zm" transform="translate(1622,564) rotate(90)"/>
<path class="ln" d="M1824,438 V488 H1932 V977 H1884"/>
<use href="#one" transform="translate(1824,432) rotate(-90)"/><use href="#om" transform="translate(1878,977) rotate(180)"/>
<path class="ln" d="M1866,280 H1972 V613 H2077"/>
<use href="#zm" transform="translate(1860,280) rotate(180)"/><use href="#one" transform="translate(2083,613)"/>
<path class="ln" d="M1820,653 H1900 V750 H1924 A8,8 0 0 1 1940,750 H2077"/>
<use href="#om" transform="translate(1814,653) rotate(180)"/><use href="#one" transform="translate(2083,750)"/>
<path class="ln" d="M1884,1095 H2288 V906"/>
<use href="#zm" transform="translate(1878,1095) rotate(180)"/><use href="#one" transform="translate(2288,900) rotate(-90)"/>
<path class="ln" d="M439,1219 V1379"/>
<use href="#one" transform="translate(439,1213) rotate(-90)"/><use href="#om" transform="translate(439,1385) rotate(90)"/>
<!-- note arrows -->
<path class="ar" d="M555,175 H639 V274 H808"/>
<path class="ar" d="M2008,186 H1952 V240 H1903"/>
<path class="ar" d="M253,814 V758"/>
<path class="ar" d="M1488,838 V781"/>
<path class="ar" d="M1184,1099 V1024 H1079 V961"/>
</g>
</svg>
